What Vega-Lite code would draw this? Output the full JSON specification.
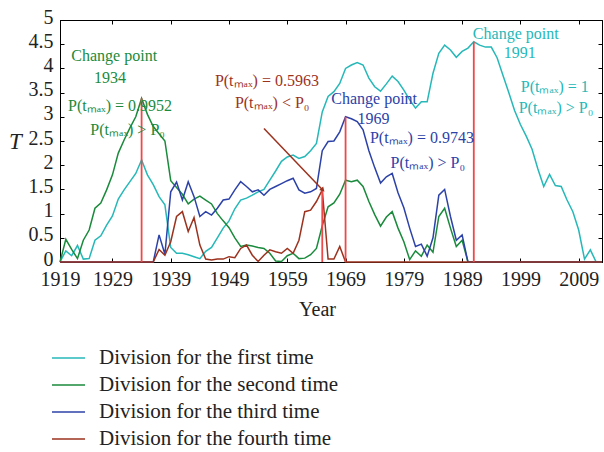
{
  "$schema": "https://vega.github.io/schema/vega-lite/v6.json",
  "width": 542,
  "height": 242,
  "autosize": {"type": "none"},
  "padding": {"left": 60, "top": 20, "right": 2, "bottom": 190},
  "config": {
    "font": "Liberation Serif",
    "view": {"stroke": "black", "strokeWidth": 1},
    "axis": {
      "grid": false,
      "domainColor": "black",
      "tickColor": "black",
      "tickSize": -4,
      "labelColor": "#222",
      "labelFont": "Liberation Serif",
      "labelFontSize": 20,
      "titleFont": "Liberation Serif",
      "titleFontWeight": "normal",
      "titleColor": "#222"
    }
  },
  "datasets": {
    "series": [
      {"year":1920,"first":0,"second":0,"third":0,"fourth":0},
      {"year":1921,"first":0.23,"second":0.47,"third":0,"fourth":0},
      {"year":1922,"first":0.13,"second":0.26,"third":0,"fourth":0},
      {"year":1923,"first":0.34,"second":0.07,"third":0,"fourth":0},
      {"year":1924,"first":0.06,"second":0.45,"third":0,"fourth":0},
      {"year":1925,"first":0.07,"second":0.66,"third":0,"fourth":0},
      {"year":1926,"first":0.45,"second":1.11,"third":0,"fourth":0},
      {"year":1927,"first":0.54,"second":1.22,"third":0,"fourth":0},
      {"year":1928,"first":0.76,"second":1.49,"third":0,"fourth":0},
      {"year":1929,"first":0.95,"second":1.8,"third":0,"fourth":0},
      {"year":1930,"first":1.3,"second":2.25,"third":0,"fourth":0},
      {"year":1931,"first":1.49,"second":2.52,"third":0,"fourth":0},
      {"year":1932,"first":1.66,"second":2.77,"third":0,"fourth":0},
      {"year":1933,"first":1.83,"second":3.0,"third":0,"fourth":0},
      {"year":1934,"first":2.11,"second":3.38,"third":0,"fourth":0},
      {"year":1935,"first":1.8,"second":3.05,"third":0,"fourth":0},
      {"year":1936,"first":1.6,"second":2.8,"third":0,"fourth":0},
      {"year":1937,"first":1.35,"second":2.65,"third":0.56,"fourth":0.26},
      {"year":1938,"first":1.18,"second":2.5,"third":0.16,"fourth":0.14},
      {"year":1939,"first":0.3,"second":1.68,"third":1.45,"fourth":0.42},
      {"year":1940,"first":0.18,"second":1.54,"third":1.65,"fourth":0.94},
      {"year":1941,"first":0.18,"second":1.4,"third":1.28,"fourth":1.04},
      {"year":1942,"first":0.15,"second":1.2,"third":1.66,"fourth":0.63},
      {"year":1943,"first":0.11,"second":1.3,"third":1.35,"fourth":0.92},
      {"year":1944,"first":0.07,"second":1.36,"third":0.94,"fourth":0.35},
      {"year":1945,"first":0.22,"second":1.28,"third":1.04,"fourth":0.06},
      {"year":1946,"first":0.3,"second":1.2,"third":0.97,"fourth":0.04},
      {"year":1947,"first":0.5,"second":1.0,"third":1.11,"fourth":0.06},
      {"year":1948,"first":0.7,"second":0.85,"third":1.28,"fourth":0.06},
      {"year":1949,"first":0.85,"second":0.71,"third":1.3,"fourth":0.11},
      {"year":1950,"first":1.1,"second":0.5,"third":1.49,"fourth":0.09},
      {"year":1951,"first":1.28,"second":0.32,"third":1.66,"fourth":0.28},
      {"year":1952,"first":1.32,"second":0.35,"third":1.56,"fourth":0.35},
      {"year":1953,"first":1.38,"second":0.33,"third":1.45,"fourth":0.14},
      {"year":1954,"first":1.45,"second":0.3,"third":1.49,"fourth":0.01},
      {"year":1955,"first":1.5,"second":0.28,"third":1.38,"fourth":0.14},
      {"year":1956,"first":1.69,"second":0.18,"third":1.5,"fourth":0.25},
      {"year":1957,"first":1.88,"second":0.02,"third":1.56,"fourth":0.21},
      {"year":1958,"first":2.08,"second":0.01,"third":1.62,"fourth":0.18},
      {"year":1959,"first":2.17,"second":0.13,"third":1.68,"fourth":0.28},
      {"year":1960,"first":2.21,"second":0.18,"third":1.73,"fourth":0.18},
      {"year":1961,"first":2.14,"second":0.07,"third":1.49,"fourth":0.45},
      {"year":1962,"first":2.18,"second":0.08,"third":1.42,"fourth":1.04},
      {"year":1963,"first":2.3,"second":0.15,"third":1.45,"fourth":1.07},
      {"year":1964,"first":2.45,"second":0.28,"third":1.52,"fourth":1.25},
      {"year":1965,"first":3.1,"second":0.75,"third":2.3,"fourth":1.49},
      {"year":1966,"first":3.42,"second":1.14,"third":2.49,"fourth":0.06},
      {"year":1967,"first":3.52,"second":1.22,"third":2.5,"fourth":0.06},
      {"year":1968,"first":3.69,"second":1.4,"third":2.69,"fourth":0.32},
      {"year":1969,"first":4.0,"second":1.69,"third":3.0,"fourth":0},
      {"year":1970,"first":4.07,"second":1.66,"third":2.96,"fourth":0},
      {"year":1971,"first":4.12,"second":1.69,"third":2.9,"fourth":0},
      {"year":1972,"first":4.07,"second":1.56,"third":2.73,"fourth":0},
      {"year":1973,"first":3.8,"second":1.25,"third":2.3,"fourth":0},
      {"year":1974,"first":3.62,"second":0.98,"third":1.95,"fourth":0},
      {"year":1975,"first":3.53,"second":0.74,"third":1.63,"fourth":0},
      {"year":1976,"first":3.68,"second":0.93,"third":1.76,"fourth":0},
      {"year":1977,"first":3.84,"second":1.04,"third":1.83,"fourth":0},
      {"year":1978,"first":3.73,"second":0.7,"third":1.43,"fourth":0},
      {"year":1979,"first":3.55,"second":0.42,"third":1.12,"fourth":0},
      {"year":1980,"first":3.35,"second":0.05,"third":0.7,"fourth":0},
      {"year":1981,"first":3.18,"second":0.23,"third":0.32,"fourth":0},
      {"year":1982,"first":3.31,"second":0.12,"third":0.37,"fourth":0},
      {"year":1983,"first":3.31,"second":0.35,"third":0.12,"fourth":0},
      {"year":1984,"first":3.9,"second":0.2,"third":0.5,"fourth":0},
      {"year":1985,"first":4.31,"second":0.94,"third":1.38,"fourth":0},
      {"year":1986,"first":4.48,"second":1.11,"third":1.5,"fourth":0},
      {"year":1987,"first":4.38,"second":0.7,"third":0.94,"fourth":0},
      {"year":1988,"first":4.23,"second":0.32,"third":0.45,"fourth":0},
      {"year":1989,"first":4.35,"second":0.45,"third":0.56,"fourth":0},
      {"year":1990,"first":4.42,"second":0,"third":0,"fourth":0},
      {"year":1991,"first":4.55,"second":0,"third":0,"fourth":0},
      {"year":1992,"first":4.48,"second":0,"third":0,"fourth":0},
      {"year":1993,"first":4.44,"second":0,"third":0,"fourth":0},
      {"year":1994,"first":4.44,"second":0,"third":0,"fourth":0},
      {"year":1995,"first":4.22,"second":0,"third":0,"fourth":0},
      {"year":1996,"first":3.86,"second":0,"third":0,"fourth":0},
      {"year":1997,"first":3.5,"second":0,"third":0,"fourth":0},
      {"year":1998,"first":3.13,"second":0,"third":0,"fourth":0},
      {"year":1999,"first":2.84,"second":0,"third":0,"fourth":0},
      {"year":2000,"first":2.6,"second":0,"third":0,"fourth":0},
      {"year":2001,"first":2.33,"second":0,"third":0,"fourth":0},
      {"year":2002,"first":1.92,"second":0,"third":0,"fourth":0},
      {"year":2003,"first":1.56,"second":0,"third":0,"fourth":0},
      {"year":2004,"first":1.81,"second":0,"third":0,"fourth":0},
      {"year":2005,"first":1.58,"second":0,"third":0,"fourth":0},
      {"year":2006,"first":1.56,"second":0,"third":0,"fourth":0},
      {"year":2007,"first":1.28,"second":0,"third":0,"fourth":0},
      {"year":2008,"first":1.04,"second":0,"third":0,"fourth":0},
      {"year":2009,"first":0.66,"second":0,"third":0,"fourth":0},
      {"year":2010,"first":0.06,"second":0,"third":0,"fourth":0},
      {"year":2011,"first":0.25,"second":0,"third":0,"fourth":0},
      {"year":2012,"first":0,"second":0,"third":0,"fourth":0},
      {"year":2013,"first":0,"second":0,"third":0,"fourth":0}
    ],
    "changes": [
      {"year":1934,"T":3.38},
      {"year":1965,"T":1.49},
      {"year":1969,"T":3.0},
      {"year":1991,"T":4.55}
    ],
    "notes": [
      {"year":1929.3,"T":4.26,"label":"Change point","division":"second"},
      {"year":1928.6,"T":3.80,"label":"1934","division":"second"},
      {"year":1930.3,"T":3.22,"label":"P(tₘₐₓ) = 0.9952","division":"second"},
      {"year":1931.6,"T":2.73,"label":"P(tₘₐₓ) > P₀","division":"second"},
      {"year":1955.5,"T":3.74,"label":"P(tₘₐₓ) = 0.5963","division":"fourth"},
      {"year":1956.4,"T":3.29,"label":"P(tₘₐₓ) < P₀","division":"fourth"},
      {"year":1973.9,"T":3.37,"label":"Change point","division":"third"},
      {"year":1973.8,"T":2.95,"label":"1969","division":"third"},
      {"year":1982.1,"T":2.56,"label":"P(tₘₐₓ) = 0.9743","division":"third"},
      {"year":1983.1,"T":2.04,"label":"P(tₘₐₓ) > P₀","division":"third"},
      {"year":1998.2,"T":4.72,"label":"Change point","division":"first"},
      {"year":1998.9,"T":4.31,"label":"1991","division":"first"},
      {"year":2004.9,"T":3.61,"label":"P(tₘₐₓ) = 1","division":"first"},
      {"year":2005.1,"T":3.18,"label":"P(tₘₐₓ) > P₀","division":"first"}
    ],
    "arrow": [
      {"year":1955,"T":2.76,"yearEnd":1965,"TEnd":1.5}
    ]
  },
  "resolve": {"axis": {"x": "independent", "y": "independent"}},
  "layer": [
    {
      "data": {"name": "series"},
      "transform": [{"fold": ["first", "second", "third", "fourth"], "as": ["division", "T"]}],
      "mark": {"type": "line", "strokeWidth": 1.5},
      "encoding": {
        "x": {
          "field": "year", "type": "quantitative",
          "scale": {"domain": [1920, 2013], "nice": false, "zero": false},
          "axis": {
            "values": [1920, 1929, 1939, 1949, 1959, 1969, 1979, 1989, 1999, 2009],
            "format": "d",
            "labelExpr": "datum.value == 1920 ? '1919' : datum.label",
            "labelPadding": 11,
            "labelFlush": false,
            "labelOverlap": false,
            "title": "Year",
            "titleFontSize": 20,
            "titleX": 257,
            "titleY": 37,
            "titleBaseline": "top"
          }
        },
        "y": {
          "field": "T", "type": "quantitative",
          "scale": {"domain": [0, 5], "nice": false},
          "axis": {
            "values": [0, 0.5, 1, 1.5, 2, 2.5, 3, 3.5, 4, 4.5, 5],
            "format": "~g",
            "labelPadding": 11,
            "labelOffset": -3,
            "labelOverlap": false,
            "labelFlush": false,
            "title": "T",
            "titleAngle": 0,
            "titleFontSize": 23,
            "titleFontStyle": "italic",
            "titleX": -45,
            "titleY": 121,
            "titleAlign": "center",
            "titleBaseline": "middle"
          }
        },
        "color": {
          "field": "division", "type": "nominal",
          "scale": {"domain": ["first", "second", "third", "fourth"], "range": ["#26b8b8", "#1a8a3c", "#2c42a8", "#9c321e"]},
          "legend": {
            "orient": "none", "legendX": -2.5, "legendY": 327, "title": null,
            "symbolType": "M-1.65,0H1.65", "symbolSize": 400, "symbolStrokeWidth": 1.5,
            "labelFont": "Liberation Serif", "labelFontSize": 21, "labelColor": "#222",
            "labelOffset": 19.5, "rowPadding": 6, "labelLimit": 400,
            "labelExpr": "{'first': 'Division for the first time', 'second': 'Division for the second time', 'third': 'Division for the third time', 'fourth': 'Division for the fourth time'}[datum.label]"
          }
        }
      }
    },
    {
      "data": {"name": "changes"},
      "mark": {"type": "rule", "color": "#f04848", "strokeWidth": 1.8},
      "encoding": {
        "x": {"field": "year", "type": "quantitative",
              "axis": {"orient": "top", "values": [1920, 1929, 1939, 1949, 1959, 1969, 1979, 1989, 1999, 2009], "labels": false, "title": null}},
        "y": {"field": "T", "type": "quantitative",
              "axis": {"orient": "right", "values": [0, 0.5, 1, 1.5, 2, 2.5, 3, 3.5, 4, 4.5, 5], "labels": false, "title": null}},
        "y2": {"datum": 0}
      }
    },
    {
      "data": {"name": "arrow"},
      "mark": {"type": "rule", "color": "#9c321e", "strokeWidth": 1.5},
      "encoding": {
        "x": {"field": "year", "type": "quantitative", "axis": null},
        "x2": {"field": "yearEnd"},
        "y": {"field": "T", "type": "quantitative", "axis": null},
        "y2": {"field": "TEnd"}
      }
    },
    {
      "data": {"name": "arrow"},
      "mark": {"type": "point", "shape": "triangle", "filled": true, "size": 30, "angle": 137, "color": "#9c321e", "opacity": 1},
      "encoding": {
        "x": {"field": "yearEnd", "type": "quantitative", "axis": null},
        "y": {"field": "TEnd", "type": "quantitative", "axis": null}
      }
    },
    {
      "data": {"name": "notes"},
      "mark": {"type": "text", "font": "Liberation Serif", "fontSize": 16, "align": "center", "baseline": "middle"},
      "encoding": {
        "x": {"field": "year", "type": "quantitative", "axis": null},
        "y": {"field": "T", "type": "quantitative", "axis": null},
        "text": {"field": "label"},
        "color": {"field": "division", "type": "nominal", "legend": null}
      }
    }
  ]
}
